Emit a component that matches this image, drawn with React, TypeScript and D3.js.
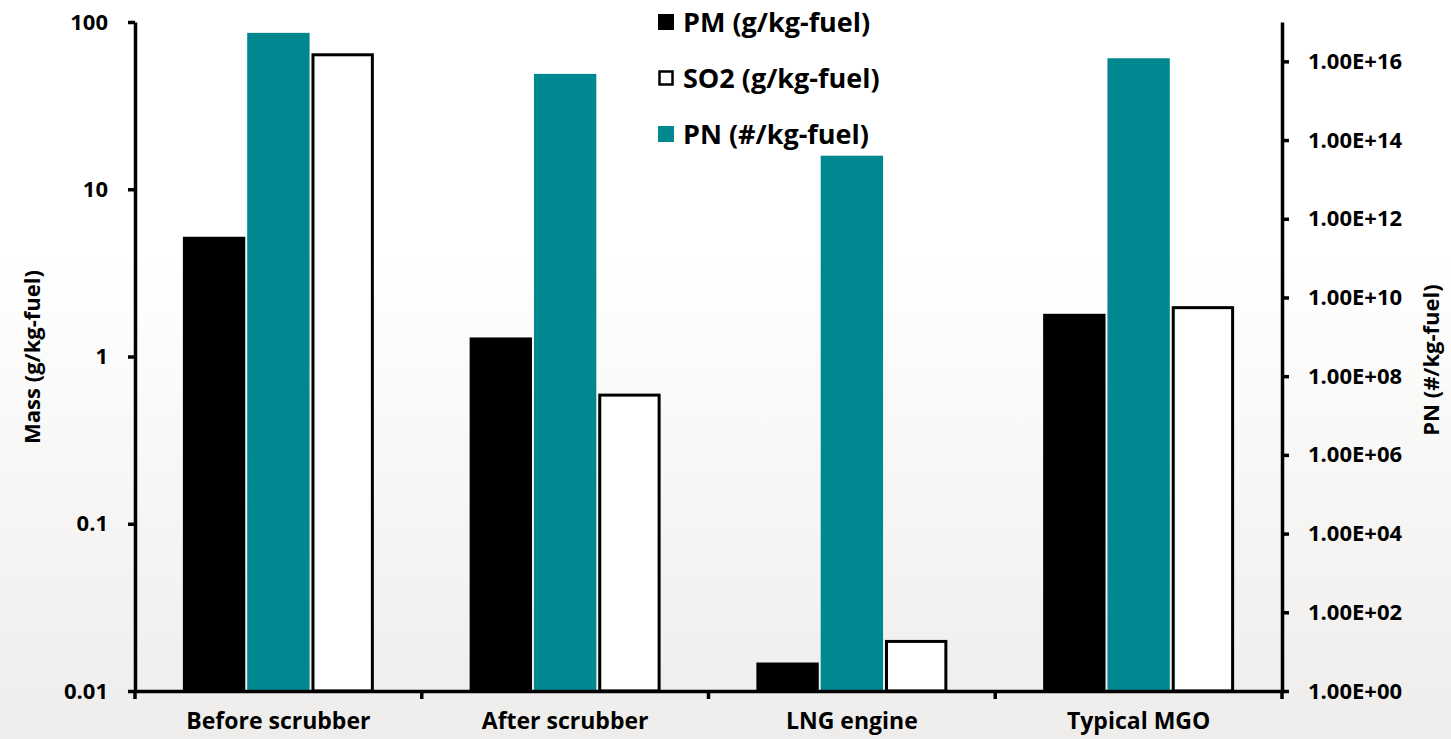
import React, { useEffect, useRef } from 'react';
import * as d3 from 'd3';

const categories = ['Before scrubber', 'After scrubber', 'LNG engine', 'Typical MGO'];
const pmValues = [5.2, 1.3, 0.0148, 1.8];
const so2Values = [65, 0.6, 0.0202, 2.0];
const pnValues = [5.3e16, 4.8e15, 4e13, 1.2e16];
const leftTicks = [0.01, 0.1, 1, 10, 100];
const rightTicks = [1, 1e2, 1e4, 1e6, 1e8, 1e10, 1e12, 1e14, 1e16];
const legendItems = [
  { key: 'PM', label: 'PM (g/kg-fuel)' },
  { key: 'SO2', label: 'SO2 (g/kg-fuel)' },
  { key: 'PN', label: 'PN (#/kg-fuel)' },
];

const W = 1451;
const H = 739;
const TEAL = '#008891';
const FONT = '"Open Sans", "DejaVu Sans", sans-serif';

function fmtSci(v: number) {
  const e = Math.round(Math.log10(v));
  return `1.00E+${String(e).padStart(2, '0')}`;
}

export default function App() {
  const ref = useRef<SVGSVGElement | null>(null);

  useEffect(() => {
    const svg = d3.select(ref.current);
    svg.selectAll('*').remove();

    const left = 135;
    const right = 1282;
    const top = 22;
    const bottom = 691;

    // background: white fading to a pale grey toward the bottom
    const defs = svg.append('defs');
    const grad = defs.append('linearGradient').attr('id', 'bg').attr('x1', 0).attr('y1', 0).attr('x2', 0).attr('y2', 1);
    grad.append('stop').attr('offset', '0%').attr('stop-color', '#ffffff');
    grad.append('stop').attr('offset', '35%').attr('stop-color', '#ffffff');
    grad.append('stop').attr('offset', '100%').attr('stop-color', '#eeedeb');
    svg.append('rect').attr('width', W).attr('height', H).attr('fill', 'url(#bg)');

    const x = d3.scaleBand<string>().domain(categories).range([left, right]);
    const bw = x.bandwidth();
    const xs = d3.scaleBand<string>()
      .domain(['PM', 'PN', 'SO2'])
      .range([bw * 0.167, bw * 0.833])
      .paddingInner(0.03);
    const yL = d3.scaleLog().domain([0.01, 100]).range([bottom, top]);
    const yR = d3.scaleLog().domain([1, 1e17]).range([bottom, top]);

    const g = svg.append('g');
    categories.forEach((c, i) => {
      const x0 = x(c)!;
      g.append('rect')
        .attr('x', x0 + xs('PM')!)
        .attr('y', yL(pmValues[i]))
        .attr('width', xs.bandwidth())
        .attr('height', bottom - yL(pmValues[i]))
        .attr('fill', '#000');
      g.append('rect')
        .attr('x', x0 + xs('PN')!)
        .attr('y', yR(pnValues[i]))
        .attr('width', xs.bandwidth())
        .attr('height', bottom - yR(pnValues[i]))
        .attr('fill', TEAL);
      g.append('rect')
        .attr('x', x0 + xs('SO2')! + 1.5)
        .attr('y', yL(so2Values[i]) + 1.5)
        .attr('width', xs.bandwidth() - 3)
        .attr('height', bottom - yL(so2Values[i]) - 1.5)
        .attr('fill', '#fff')
        .attr('stroke', '#000')
        .attr('stroke-width', 3);
    });

    // left axis
    const la = svg.append('g').attr('transform', `translate(${left},0)`)
      .call(d3.axisLeft(yL).tickValues(leftTicks).tickFormat((d) => String(+d)).tickSize(7).tickSizeOuter(0).tickPadding(20));
    // right axis
    const ra = svg.append('g').attr('transform', `translate(${right},0)`)
      .call(d3.axisRight(yR).tickValues(rightTicks).tickFormat((d) => fmtSci(+d)).tickSize(7).tickSizeOuter(0).tickPadding(19));
    // bottom axis
    const ba = svg.append('g').attr('transform', `translate(0,${bottom})`)
      .call(d3.axisBottom(x).tickSize(0).tickPadding(20));

    [la, ra, ba].forEach((a) => {
      a.select('.domain').attr('stroke', '#000').attr('stroke-width', 3.5);
      a.selectAll('.tick line').attr('stroke', '#000').attr('stroke-width', 3.5);
      a.selectAll('text').attr('fill', '#000').attr('font-family', FONT).attr('font-weight', 700);
    });
    la.selectAll('text').attr('font-size', 22);
    ra.selectAll('text').attr('font-size', 22);
    ba.selectAll('text').attr('font-size', 23).attr('dy', '0.8em');

    // category separators on the bottom axis
    const seps = [...categories.map((c) => x(c)!), right];
    svg.append('g').selectAll('line').data(seps).join('line')
      .attr('x1', (d) => d).attr('x2', (d) => d)
      .attr('y1', bottom).attr('y2', bottom + 8)
      .attr('stroke', '#000').attr('stroke-width', 3.5);

    // axis titles
    svg.append('text')
      .attr('transform', `translate(34,357) rotate(-90)`)
      .attr('text-anchor', 'middle')
      .attr('dominant-baseline', 'middle')
      .attr('font-family', FONT).attr('font-weight', 700).attr('font-size', 22)
      .text('Mass (g/kg-fuel)');
    svg.append('text')
      .attr('transform', `translate(1433,360) rotate(-90)`)
      .attr('text-anchor', 'middle')
      .attr('dominant-baseline', 'middle')
      .attr('font-family', FONT).attr('font-weight', 700).attr('font-size', 22)
      .text('PN (#/kg-fuel)');

    // legend
    const lg = svg.append('g').attr('transform', 'translate(658,0)');
    legendItems.forEach((it, i) => {
      const cy = 25 + i * 56;
      const fill = it.key === 'PM' ? '#000' : it.key === 'PN' ? TEAL : '#fff';
      const isOutline = it.key === 'SO2';
      lg.append('rect')
        .attr('x', isOutline ? 1.5 : 0)
        .attr('y', cy - 11 + (isOutline ? 1.5 : 0))
        .attr('width', isOutline ? 13 : 16)
        .attr('height', isOutline ? 13 : 16)
        .attr('fill', fill)
        .attr('stroke', isOutline ? '#000' : 'none')
        .attr('stroke-width', 2.5);
      lg.append('text')
        .attr('x', 25)
        .attr('y', cy)
        .attr('dominant-baseline', 'middle')
        .attr('font-family', FONT).attr('font-weight', 700).attr('font-size', 27)
        .text(it.label);
    });
  }, []);

  return (
    <svg
      ref={ref}
      width={W}
      height={H}
      style={{ position: 'absolute', left: 0, top: 0, display: 'block' }}
    />
  );
}
